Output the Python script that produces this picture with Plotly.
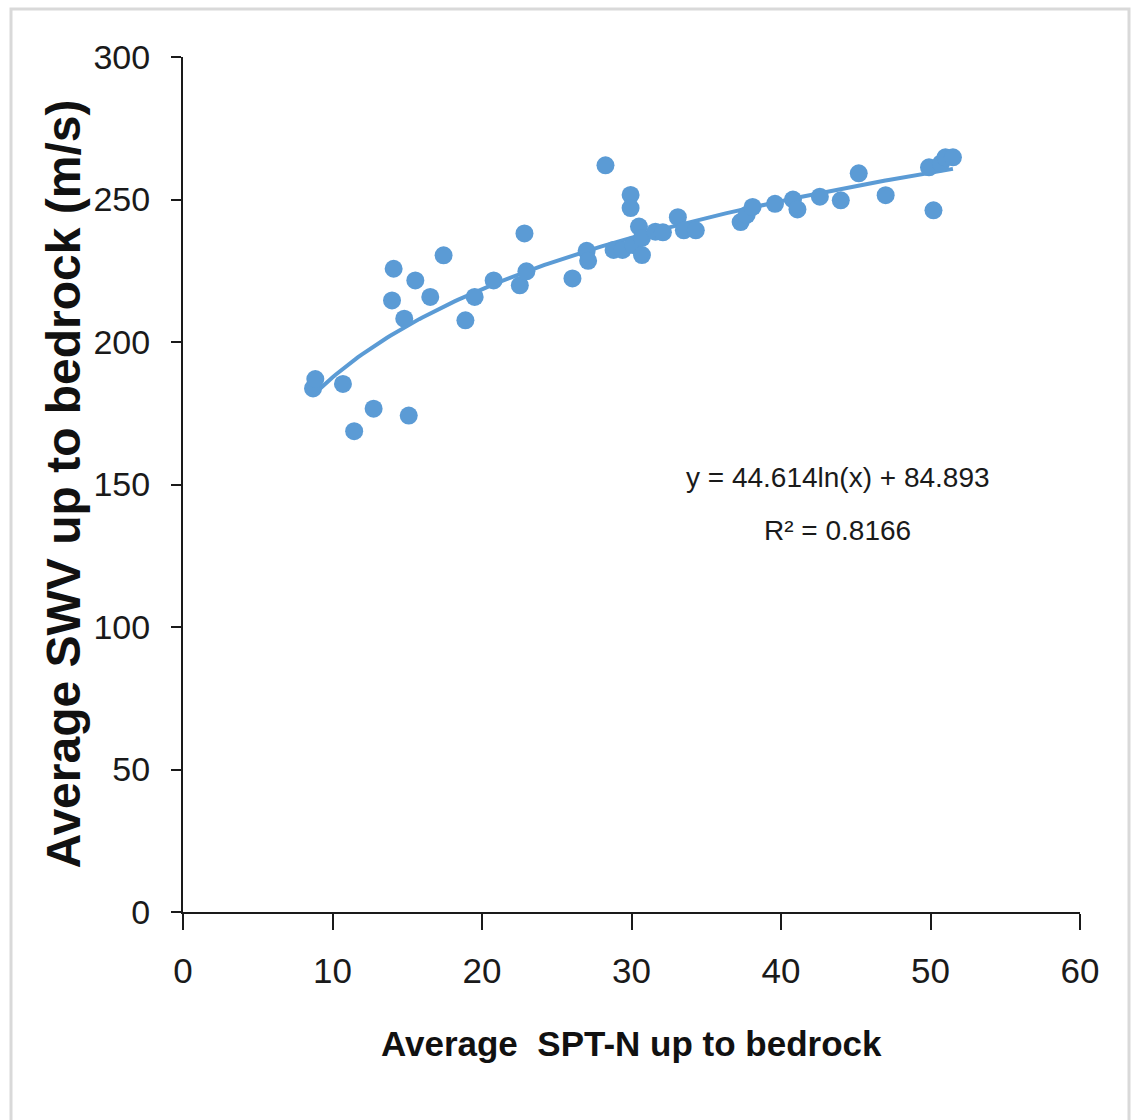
import numpy as np
import plotly.graph_objects as go

# ---- data ----
spt_n = [8.7, 8.85, 10.7, 11.45, 12.75, 15.1, 13.98, 14.09, 14.8, 15.54,
         16.54, 17.43, 18.89, 19.51, 20.78, 22.53, 22.84, 22.97, 26.05, 27.0,
         27.1, 28.26, 29.94, 29.94, 28.8, 29.4, 30.1, 30.5, 30.7, 30.7,
         31.6, 32.1, 33.1, 33.5, 34.3, 37.3, 37.7, 38.1, 39.6, 40.8,
         41.1, 42.6, 44.0, 45.2, 47.0, 50.2, 49.9, 50.7, 51.0, 51.5]
swv = [183.7, 187.0, 185.3, 168.7, 176.6, 174.2, 214.6, 225.7, 208.2, 221.6,
       215.8, 230.4, 207.6, 215.8, 221.6, 219.9, 238.1, 224.8, 222.3, 232.0,
       228.5, 262.0, 251.6, 247.0, 232.3, 232.3, 234.0, 240.5, 236.5, 230.5,
       238.7, 238.5, 243.8, 239.2, 239.2, 242.1, 244.6, 247.4, 248.5, 250.0,
       246.5, 251.0, 249.7, 259.2, 251.5, 246.2, 261.3, 262.7, 264.8, 264.8]

# logarithmic trendline coefficients (from the chart label)
coef_a = 44.614
coef_b = 84.893
r_squared = 0.8166

x_ticks = [0, 10, 20, 30, 40, 50, 60]
y_ticks = [0, 50, 100, 150, 200, 250, 300]

x_title = "Average  SPT-N up to bedrock"
y_title = "Average SWV up to bedrock (m/s)"

# ---- figure ----
blue = "#5B9BD5"
sans = "Liberation Sans, Arial, sans-serif"
ink = "#1a1a1a"

xs = np.linspace(min(spt_n), max(spt_n), 200)
ys = coef_a * np.log(xs) + coef_b

fig = go.Figure()
fig.add_trace(go.Scatter(x=xs, y=ys, mode="lines",
                         line=dict(color=blue, width=4), hoverinfo="skip",
                         showlegend=False))
fig.add_trace(go.Scatter(x=spt_n, y=swv, mode="markers",
                         marker=dict(color=blue, size=18, line=dict(width=0)),
                         showlegend=False))

fig.update_layout(
    width=1134, height=1120,
    margin=dict(l=183, r=54, t=57, b=208),
    paper_bgcolor="white", plot_bgcolor="white",
    xaxis=dict(range=[0, 60], tickvals=x_ticks, showgrid=False, zeroline=False,
               showline=True, linecolor=ink, linewidth=2,
               ticks="outside", ticklen=16, tickwidth=2, tickcolor=ink,
               tickfont=dict(family=sans, size=35, color=ink),
               ticklabelstandoff=11),
    yaxis=dict(range=[0, 300], tickvals=y_ticks, showgrid=False, zeroline=False,
               showline=True, linecolor=ink, linewidth=2,
               ticks="outside", ticklen=10, tickwidth=2, tickcolor=ink,
               tickfont=dict(family=sans, size=34, color=ink),
               ticklabelstandoff=14),
    showlegend=False,
)

fig.add_annotation(text=x_title, xref="paper", yref="paper",
                   x=0.4995, y=(912 - 1043) / 855, xanchor="center", yanchor="middle",
                   showarrow=False,
                   font=dict(family=sans, size=35, color="#111111", weight="bold"))
fig.add_annotation(text=y_title, xref="paper", yref="paper",
                   x=(63 - 183) / 897, y=0.5, xanchor="center", yanchor="middle",
                   textangle=-90, showarrow=False,
                   font=dict(family=sans, size=48, color="#111111", weight="bold"))

fig.add_annotation(text=f"y = {coef_a}ln(x) + {coef_b}",
                   x=43.8, y=152.3, xref="x", yref="y", showarrow=False,
                   xanchor="center", yanchor="middle",
                   font=dict(family=sans, size=28, color=ink))
fig.add_annotation(text=f"R² = {r_squared}",
                   x=43.8, y=133.7, xref="x", yref="y", showarrow=False,
                   xanchor="center", yanchor="middle",
                   font=dict(family=sans, size=28, color=ink))

# light gray outer frame
fig.add_shape(type="rect", xref="paper", yref="paper",
              x0=(11 - 183) / 897, x1=(1129 - 183) / 897,
              y0=(912 - 1135) / 855, y1=(912 - 9) / 855,
              line=dict(color="#D9D9D9", width=3), layer="below")

fig.write_html("out.html")
